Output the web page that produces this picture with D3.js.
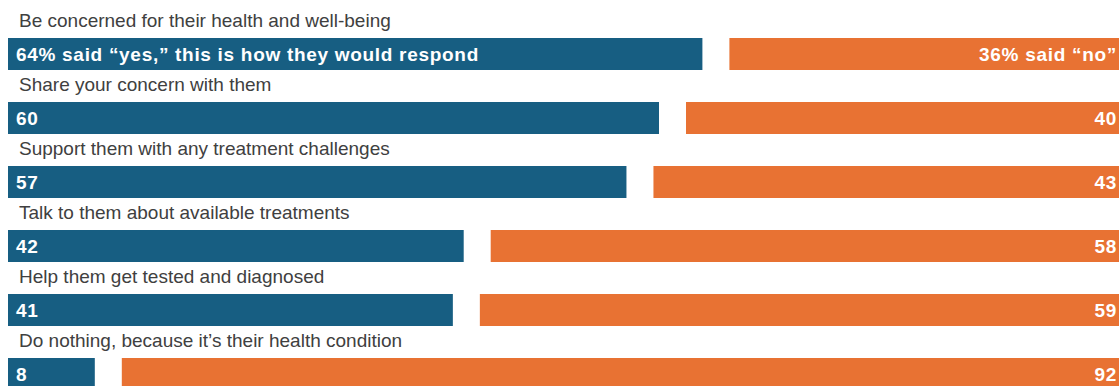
<!DOCTYPE html>
<html>
<head>
<meta charset="utf-8">
<script src="https://cdn.jsdelivr.net/npm/d3@7"></script>
<style>
  body { margin: 0; background: #fff; }
  text { font-family: "Liberation Sans", Arial, sans-serif; }
</style>
</head>
<body>
<div id="chart"></div>
<script>
// data
const categories = [
    "Be concerned for their health and well-being",
    "Share your concern with them",
    "Support them with any treatment challenges",
    "Talk to them about available treatments",
    "Help them get tested and diagnosed",
    "Do nothing, because it\u2019s their health condition"
];
const yesValues = [64, 60, 57, 42, 41, 8];
const noValues = [36, 40, 43, 58, 59, 92];
const yesLabels = ["64% said \u201cyes,\u201d this is how they would respond", "60", "57", "42", "41", "8"];
const noLabels = ["36% said \u201cno\u201d", "40", "43", "58", "59", "92"];

const width = 1119;
const height = 386;
const margin = {top: 0, left: 8};
const gap = 27;

const viz = d3.select("#chart")
    .append("svg")
    .attr("width", width)
    .attr("height", height);

// Scales
const xScale = d3.scaleLinear()
    .domain([0, 100])
    .range([0, 1085]);

const yScale = d3.scaleBand()
    .domain(categories)
    .range([margin.top, margin.top + 64 * categories.length])
    .paddingInner(0);

const rows = viz.selectAll("g.row")
    .data(categories)
    .enter()
    .append("g")
    .attr("class", "row")
    .attr("transform", function(d) { return `translate(${margin.left},${yScale(d)})`; });

// category labels
rows.append("text")
    .attr("x", 11)
    .attr("y", 27)
    .attr("fill", "#404040")
    .style("font-size", "19px")
    .text(function(d) { return d; });

// yes bars
rows.append("rect")
    .attr("x", 0)
    .attr("y", 38)
    .attr("height", 32)
    .attr("width", function(d, i) { return xScale(yesValues[i]); })
    .attr("fill", "#175e82");

// no bars
rows.append("rect")
    .attr("x", function(d, i) { return xScale(yesValues[i]) + gap; })
    .attr("y", 38)
    .attr("height", 32)
    .attr("width", function(d, i) { return xScale(noValues[i]); })
    .attr("fill", "#e87233");

// bar labels
rows.append("text")
    .attr("x", 8)
    .attr("y", 61)
    .attr("fill", "#fff")
    .style("font-size", "19px")
    .style("font-weight", "bold")
    .style("letter-spacing", "0.7px")
    .text(function(d, i) { return yesLabels[i]; });

rows.append("text")
    .attr("x", width - margin.left - 2)
    .attr("y", 61)
    .attr("text-anchor", "end")
    .attr("fill", "#fff")
    .style("font-size", "19px")
    .style("font-weight", "bold")
    .style("letter-spacing", "0.7px")
    .text(function(d, i) { return noLabels[i]; });
</script>
</body>
</html>
